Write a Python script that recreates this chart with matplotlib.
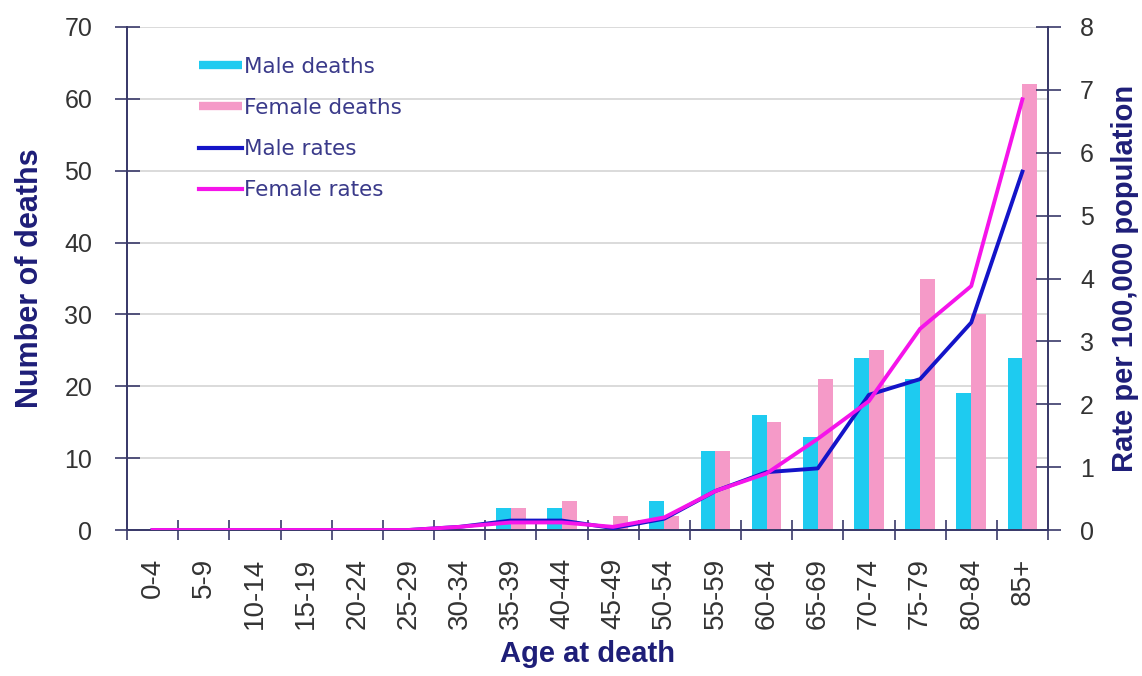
import matplotlib
matplotlib.use("Agg")
import matplotlib.pyplot as plt
from matplotlib.lines import Line2D
import numpy as np

categories = ["0-4", "5-9", "10-14", "15-19", "20-24", "25-29", "30-34", "35-39",
              "40-44", "45-49", "50-54", "55-59", "60-64", "65-69", "70-74",
              "75-79", "80-84", "85+"]
male_deaths = [0, 0, 0, 0, 0, 0, 0, 3, 3, 0, 4, 11, 16, 13, 24, 21, 19, 24]
female_deaths = [0, 0, 0, 0, 0, 0, 0, 3, 4, 2, 2, 11, 15, 21, 25, 35, 30, 62]
male_rates = [0, 0, 0, 0, 0, 0, 0.05, 0.15, 0.15, 0.03, 0.18, 0.62, 0.92, 0.98, 2.15, 2.4, 3.3, 5.7]
female_rates = [0, 0, 0, 0, 0, 0, 0.05, 0.12, 0.12, 0.05, 0.2, 0.62, 0.9, 1.45, 2.05, 3.2, 3.88, 6.85]

CYAN = "#1ECBF0"
PINK = "#F59AC8"
BLUE = "#1414C8"
MAGENTA = "#F514EA"
NAVY = "#1E1E78"
SPINE = "#3A3A6A"
TICKTXT = "#333333"

plt.rcParams['font.family'] = ['Liberation Sans', 'DejaVu Sans']

fig = plt.figure(figsize=(11.42, 6.76), dpi=100)
ax = fig.add_axes([127 / 1142, 1 - 530 / 676, (1048 - 127) / 1142, (530 - 27) / 676])
x = np.arange(len(categories))
w = 0.29
ax.bar(x - w / 2, male_deaths, width=w, color=CYAN, zorder=2)
ax.bar(x + w / 2, female_deaths, width=w, color=PINK, zorder=2)
ax.set_ylim(0, 70)
ax.set_xlim(-0.5, len(categories) - 0.5)
ax.set_yticks(range(0, 71, 10))
ax.yaxis.grid(True, color="#d4d4d4", lw=1.2, zorder=0)
ax.set_axisbelow(True)

ax2 = ax.twinx()
ax2.plot(x, male_rates, color=BLUE, lw=2.8, zorder=3)
ax2.plot(x, female_rates, color=MAGENTA, lw=2.8, zorder=3)
ax2.set_ylim(0, 8)
ax2.set_yticks(range(0, 9))

for a in (ax, ax2):
    a.spines['top'].set_visible(False)
    for s in ('left', 'right', 'bottom'):
        a.spines[s].set_color(SPINE)
        a.spines[s].set_linewidth(1.3)

ax.tick_params(axis='y', direction='inout', length=18, width=1.2, color=SPINE,
               labelsize=18, labelcolor=TICKTXT, pad=16)
ax2.tick_params(axis='y', direction='inout', length=18, width=1.2, color=SPINE,
                labelsize=18, labelcolor=TICKTXT, pad=14)
ax.set_xticks(x)
ax.set_xticklabels(categories, rotation=90, fontsize=20, color=TICKTXT)
ax.tick_params(axis='x', which='major', length=0, pad=20)
ax.set_xticks(np.arange(-0.5, len(categories), 1), minor=True)
ax.tick_params(axis='x', which='minor', direction='inout', length=14, width=1.2, color=SPINE)

ax.set_ylabel("Number of deaths", fontsize=22, fontweight='bold', color=NAVY, labelpad=14)
ax2.set_ylabel("Rate per 100,000 population", fontsize=21, fontweight='bold', color=NAVY, labelpad=12)
ax.set_xlabel("Age at death", fontsize=21, fontweight='bold', color=NAVY, labelpad=8)

handles = [Line2D([], [], color=CYAN, lw=6, solid_capstyle='butt'),
           Line2D([], [], color=PINK, lw=6, solid_capstyle='butt'),
           Line2D([], [], color=BLUE, lw=3),
           Line2D([], [], color=MAGENTA, lw=3)]
labels = ["Male deaths", "Female deaths", "Male rates", "Female rates"]
leg = ax2.legend(handles, labels, loc='upper left', bbox_to_anchor=(0.066, 0.962),
                 frameon=False, prop={'family': 'DejaVu Sans', 'size': 15.5},
                 handlelength=2.0, handletextpad=0.1, labelspacing=0.98, borderpad=0)
for t in leg.get_texts():
    t.set_color("#3A3A8A")

fig.savefig("out.png", dpi=100)
